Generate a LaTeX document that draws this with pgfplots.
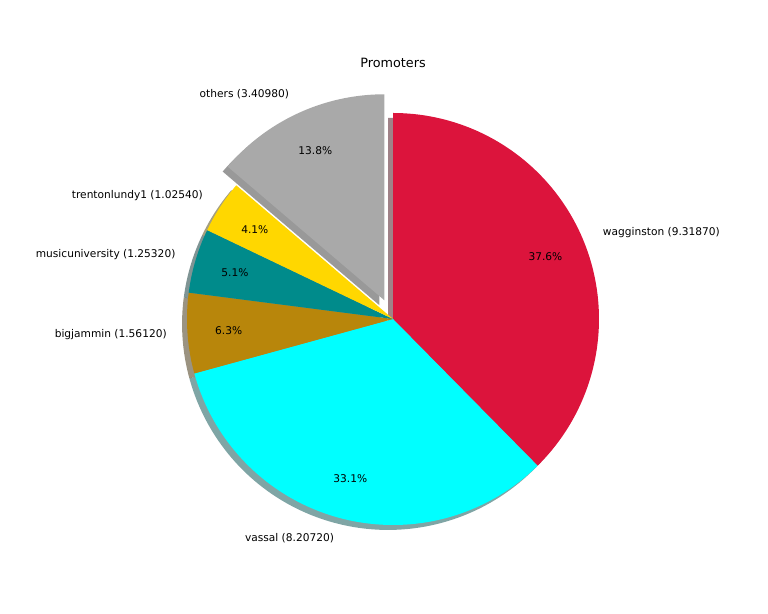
\documentclass[border=0pt]{standalone}
\usepackage{pgfplots}
\usepackage{pgfplotstable}
\pgfplotsset{compat=1.18}
\usepackage{fontspec}
\setmainfont{DejaVu Sans}
\definecolor{cCrimson}{HTML}{DC143C}
\definecolor{cCyan}{HTML}{00FFFF}
\definecolor{cGoldenrod}{HTML}{B8860B}
\definecolor{cDarkCyan}{HTML}{008B8B}
\definecolor{cGold}{HTML}{FFD700}
\definecolor{cGray}{HTML}{A9A9A9}
\newcommand\lblfont{\fontsize{7.65}{9}\selectfont}
\pgfplotstableread{
label value col explode
wagginston 9.31870 cCrimson 0
vassal 8.20720 cCyan 0
bigjammin 1.56120 cGoldenrod 0
musicuniversity 1.25320 cDarkCyan 0
trentonlundy1 1.02540 cGold 0
others 3.40980 cGray 0.1
}\piedata
\begin{document}
\begin{tikzpicture}
\pgfmathsetmacro\total{0}
\pgfplotsforeachungrouped \i in {0,...,5}{%
  \pgfplotstablegetelem{\i}{value}\of\piedata
  \pgfmathsetmacro\total{\total+\pgfplotsretval}%
}
\begin{axis}[
  scale only axis, width=552.96pt, height=442.08pt,
  xmin=-1.9078, xmax=1.8204, ymin=-1.4320, ymax=1.5485,
  hide axis, clip=false,
]
\path (rel axis cs:0,0) rectangle (rel axis cs:1,1);
% shadows
\pgfmathsetmacro\angA{90}
\pgfplotsforeachungrouped \i in {0,...,5}{%
  \pgfplotstablegetelem{\i}{value}\of\piedata \let\val\pgfplotsretval
  \pgfplotstablegetelem{\i}{col}\of\piedata \let\col\pgfplotsretval
  \pgfplotstablegetelem{\i}{explode}\of\piedata \let\ex\pgfplotsretval
  \pgfmathsetmacro\angB{\angA-\val/\total*360}%
  \pgfmathsetmacro\mid{(\angA+\angB)/2}%
  \pgfmathsetmacro\cx{\ex*cos(\mid)-0.024}%
  \pgfmathsetmacro\cy{\ex*sin(\mid)-0.024}%
  \edef\doit{\noexpand\addplot[draw=none, fill=\col!30!black, fill opacity=0.5, domain=\angB:\angA, samples=120] ({\cx+cos(x)},{\cy+sin(x)}) -- (axis cs:\cx,\cy) -- cycle;}%
  \doit
  \let\angA\angB
}
% wedges
\pgfmathsetmacro\angA{90}
\pgfplotsforeachungrouped \i in {0,...,5}{%
  \pgfplotstablegetelem{\i}{value}\of\piedata \let\val\pgfplotsretval
  \pgfplotstablegetelem{\i}{col}\of\piedata \let\col\pgfplotsretval
  \pgfplotstablegetelem{\i}{explode}\of\piedata \let\ex\pgfplotsretval
  \pgfmathsetmacro\angB{\angA-\val/\total*360}%
  \pgfmathsetmacro\mid{(\angA+\angB)/2}%
  \pgfmathsetmacro\cx{\ex*cos(\mid)}%
  \pgfmathsetmacro\cy{\ex*sin(\mid)}%
  \edef\doit{\noexpand\addplot[draw=none, fill=\col, domain=\angB:\angA, samples=120] ({\cx+cos(x)},{\cy+sin(x)}) -- (axis cs:\cx,\cy) -- cycle;}%
  \doit
  \let\angA\angB
}
% labels
\pgfmathsetmacro\angA{90}
\pgfplotsforeachungrouped \i in {0,...,5}{%
  \pgfplotstablegetelem{\i}{value}\of\piedata \let\val\pgfplotsretval
  \pgfplotstablegetelem{\i}{label}\of\piedata \let\lbl\pgfplotsretval
  \pgfplotstablegetelem{\i}{explode}\of\piedata \let\ex\pgfplotsretval
  \pgfmathsetmacro\angB{\angA-\val/\total*360}%
  \pgfmathsetmacro\mid{(\angA+\angB)/2}%
  \pgfmathsetmacro\pct{\val/\total*100}%
  \pgfmathsetmacro\cx{\ex*cos(\mid)}%
  \pgfmathsetmacro\cy{\ex*sin(\mid)}%
  \pgfmathsetmacro\lx{\cx+1.1*cos(\mid)}%
  \pgfmathsetmacro\ly{\cy+1.1*sin(\mid)}%
  \pgfmathsetmacro\px{\cx+0.8*cos(\mid)}%
  \pgfmathsetmacro\py{\cy+0.8*sin(\mid)}%
  \ifdim\lx pt>0pt \def\anc{west}\else\def\anc{east}\fi
  \edef\doit{\noexpand\node[anchor=\anc, inner sep=0pt, font=\noexpand\lblfont] at (axis cs:\lx,\ly) {\lbl\space(\val)};
    \noexpand\node[anchor=center, inner sep=0pt, font=\noexpand\lblfont] at (axis cs:\px,\py) {\noexpand\pgfmathprintnumber[fixed,fixed zerofill,precision=1,assume math mode=true]{\pct}\noexpand\%};}%
  \doit
  \let\angA\angB
}
\node[font=\fontsize{9.2}{11}\selectfont] at (axis cs:0,1.2427) {Promoters};
\end{axis}
\end{tikzpicture}
\end{document}
